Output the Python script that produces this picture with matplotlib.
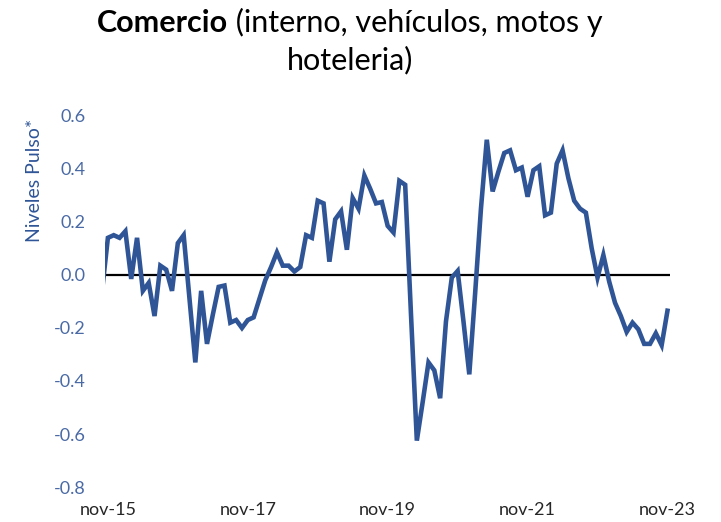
import numpy as np
import matplotlib.pyplot as plt

plt.rcParams['font.family'] = ['Lato', 'DejaVu Sans']

# monthly index from oct-15 to nov-23 (oct-15 falls just outside the plot area)
months = ['oct-15'] + [f"{m}-{y}" for y in range(15, 24)
                      for m in ['ene', 'feb', 'mar', 'abr', 'may', 'jun', 'jul', 'ago', 'sep', 'oct', 'nov', 'dic']
                      if (y > 15 or m in ('nov', 'dic')) and (y < 23 or m not in ('dic',))]
pulso = [-0.06,
         0.14, 0.15, 0.14, 0.165, -0.015, 0.14, -0.06, -0.03, -0.155, 0.035, 0.02, -0.06,
         0.12, 0.15, -0.09, -0.33, -0.06, -0.26, -0.15, -0.045, -0.04, -0.18, -0.17, -0.20,
         -0.17, -0.16, -0.09, -0.02, 0.03, 0.085, 0.035, 0.035, 0.013, 0.03, 0.15, 0.14,
         0.28, 0.27, 0.05, 0.21, 0.24, 0.095, 0.29, 0.25, 0.375, 0.325, 0.27, 0.275,
         0.185, 0.16, 0.355, 0.34, -0.15, -0.625, -0.48, -0.33, -0.36, -0.465, -0.175, -0.01,
         0.015, -0.175, -0.375, -0.07, 0.25, 0.51, 0.315, 0.39, 0.46, 0.47, 0.395, 0.405,
         0.295, 0.395, 0.41, 0.225, 0.235, 0.42, 0.47, 0.365, 0.28, 0.25, 0.235, 0.10,
         -0.01, 0.075, -0.025, -0.105, -0.155, -0.215, -0.18, -0.205, -0.26, -0.26, -0.22, -0.265,
         -0.135]
tick_labels = ['nov-15', 'nov-17', 'nov-19', 'nov-21', 'nov-23']
y_ticks = [-0.8, -0.6, -0.4, -0.2, 0.0, 0.2, 0.4, 0.6]

x = np.arange(len(pulso))
tick_pos = [months.index(t) for t in tick_labels]

fig = plt.figure(figsize=(7.21, 5.22), dpi=100)
ax = fig.add_axes([0.1456, 0.067, 0.783, 0.711])

ax.axhline(0, color='black', lw=1.6, zorder=1)
ax.plot(x, pulso, color='#2F5597', lw=3.3, solid_joinstyle='miter', zorder=2)

ax.set_xlim(tick_pos[0] - 0.5, tick_pos[-1] + 0.35)
ax.set_ylim(-0.8, 0.6)
ax.set_yticks(y_ticks)
ax.set_yticklabels([f"{v:.1f}" for v in y_ticks], color='#4A6AA5', fontsize=13)
ax.set_xticks(tick_pos)
ax.set_xticklabels(tick_labels, color='#262626', fontsize=13)
ax.tick_params(axis='y', length=0, pad=14)
ax.tick_params(axis='x', length=0, pad=11)
for s in ax.spines.values():
    s.set_visible(False)

fig.text(35 / 721, 1 - 180 / 522, 'Niveles Pulso*', rotation=90, ha='center', va='center',
         color='#2F5597', fontsize=14)

# title: bold first word, regular rest, centered at x=350px
fig.canvas.draw()
r = fig.canvas.get_renderer()
t1 = fig.text(0, 1 - 32 / 522, 'Comercio', fontsize=22, fontweight='bold', va='baseline')
t2 = fig.text(0, 1 - 32 / 522, ' (interno, vehículos, motos y', fontsize=22, va='baseline')
w1 = t1.get_window_extent(r).width
w2 = t2.get_window_extent(r).width
x_start = 350 - (w1 + w2) / 2
t1.set_x(x_start / 721)
t2.set_x((x_start + w1) / 721)
fig.text(350 / 721, 1 - 69 / 522, 'hoteleria)', fontsize=22, ha='center', va='baseline')

fig.savefig('out.png', dpi=100)
